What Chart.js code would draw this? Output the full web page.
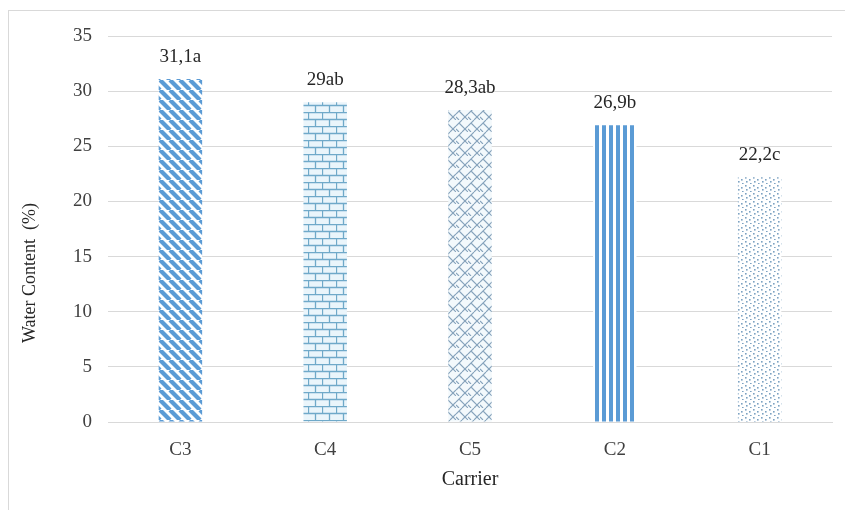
<!DOCTYPE html>
<html>
<head>
<meta charset="utf-8">
<script src="https://cdn.jsdelivr.net/npm/chart.js@4.4.1/dist/chart.umd.min.js"></script>
<style>
  html, body { margin: 0; padding: 0; background: #fff; }
  #wrap { width: 845px; height: 510px; position: relative; }
</style>
</head>
<body>
<div id="wrap"><canvas id="chart" width="845" height="510"></canvas></div>
<script>
// Carriers and measured water content
const carriers = ['C3', 'C4', 'C5', 'C2', 'C1'];
const waterContent = [31.1, 29, 28.3, 26.9, 22.2];
const valueLabels = ['31,1a', '29ab', '28,3ab', '26,9b', '22,2c'];
const yTicks = [0, 5, 10, 15, 20, 25, 30, 35];
const yTitle = 'Water Content  (%)';
const xTitle = 'Carrier';

const BLUE = '#5B9BD5';

function tile(w, h, draw) {
  const c = document.createElement('canvas');
  c.width = w; c.height = h;
  const g = c.getContext('2d');
  draw(g, w, h);
  return document.createElement('canvas').getContext('2d').createPattern(c, 'repeat');
}

// wide downward diagonal stripes
const patDiag = tile(10, 10, (g, w, h) => {
  g.fillStyle = '#ffffff'; g.fillRect(0, 0, w, h);
  g.strokeStyle = BLUE; g.lineWidth = 4.2;
  for (const o of [-w, 0, w]) {
    g.beginPath(); g.moveTo(o, 0); g.lineTo(o + w, h); g.stroke();
  }
});

// brick
const patBrick = tile(14, 14, (g, w, h) => {
  g.fillStyle = '#EAF5FB'; g.fillRect(0, 0, w, h);
  g.strokeStyle = '#6FA9C9'; g.lineWidth = 1.3;
  g.beginPath();
  g.moveTo(0, 0.5); g.lineTo(w, 0.5);
  g.moveTo(0, 7.5); g.lineTo(w, 7.5);
  g.moveTo(0.5, 0); g.lineTo(0.5, 7);
  g.moveTo(7.5, 7); g.lineTo(7.5, 14);
  g.stroke();
});

// diagonal weave
const patWeave = tile(12, 12, (g, w, h) => {
  g.fillStyle = '#F3F9FC'; g.fillRect(0, 0, w, h);
  g.strokeStyle = '#86A3BC'; g.lineWidth = 1.1;
  g.beginPath();
  g.moveTo(0, 6); g.lineTo(6, 0);
  g.moveTo(6, 12); g.lineTo(12, 6);
  g.moveTo(3, 3); g.lineTo(12, 12);
  g.moveTo(0, 9); g.lineTo(3, 12);
  g.stroke();
});

// vertical stripes
const patVert = tile(7, 4, (g, w, h) => {
  g.fillStyle = '#ffffff'; g.fillRect(0, 0, w, h);
  g.fillStyle = BLUE; g.fillRect(0, 0, 4, h);
});

// dotted
const patDots = tile(8, 8, (g, w, h) => {
  g.fillStyle = '#ffffff'; g.fillRect(0, 0, w, h);
  g.fillStyle = '#7DA2C2';
  g.fillRect(1, 1, 1.6, 1.6);
  g.fillRect(5, 3, 1.6, 1.6);
  g.fillRect(2, 5, 1.6, 1.6);
  g.fillRect(6, 7, 1.6, 1.6);
});

const fills = [patDiag, patBrick, patWeave, patVert, patDots];

const serif = '"Liberation Serif", "Times New Roman", serif';

// white background, outer chart border and the vertical axis title
const frame = {
  id: 'frame',
  beforeDraw(chart) {
    const g = chart.ctx;
    g.save();
    g.fillStyle = '#ffffff';
    g.fillRect(0, 0, chart.width, chart.height);
    g.strokeStyle = '#D9D9D9';
    g.lineWidth = 1;
    g.strokeRect(8.5, 10.5, 900, 600);
    g.restore();
  },
  afterDraw(chart) {
    const g = chart.ctx;
    g.save();
    g.translate(30, 273);
    g.rotate(-Math.PI / 2);
    g.font = '18px ' + serif;
    g.fillStyle = '#262626';
    g.textAlign = 'center';
    g.textBaseline = 'middle';
    g.fillText(yTitle, 0, 0);
    g.restore();
  }
};

const barLabels = {
  id: 'barLabels',
  afterDatasetsDraw(chart) {
    const g = chart.ctx;
    const meta = chart.getDatasetMeta(0);
    g.save();
    g.font = '19px ' + serif;
    g.fillStyle = '#262626';
    g.textAlign = 'center';
    g.textBaseline = 'middle';
    meta.data.forEach((bar, i) => {
      g.fillText(valueLabels[i], bar.x, bar.y - 22);
    });
    g.restore();
  }
};

new Chart(document.getElementById('chart'), {
  type: 'bar',
  data: {
    labels: carriers,
    datasets: [{
      data: waterContent,
      backgroundColor: fills,
      borderWidth: 0,
      categoryPercentage: 1,
      barPercentage: 0.3
    }]
  },
  options: {
    responsive: false,
    animation: false,
    devicePixelRatio: 1,
    layout: { padding: { left: 0, right: 13, top: 36, bottom: 0 } },
    plugins: { legend: { display: false }, tooltip: { enabled: false } },
    scales: {
      x: {
        grid: { display: false, drawTicks: false },
        border: { display: true, color: '#D9D9D9' },
        ticks: { color: '#404040', font: { family: serif, size: 19 }, padding: 17 },
        title: { display: true, text: xTitle, color: '#262626', font: { family: serif, size: 20 }, padding: { top: 0, bottom: 18 } },
        afterFit: s => { s.height = 88; }
      },
      y: {
        min: 0, max: 35,
        afterBuildTicks: s => { s.ticks = yTicks.map(v => ({ value: v })); },
        grid: { color: '#D9D9D9', drawTicks: false },
        border: { display: false },
        ticks: { color: '#404040', font: { family: serif, size: 19 }, padding: 16 },
        title: { display: false },
        afterFit: s => { s.width = 108; }
      }
    }
  },
  plugins: [frame, barLabels]
});
</script>
</body>
</html>
